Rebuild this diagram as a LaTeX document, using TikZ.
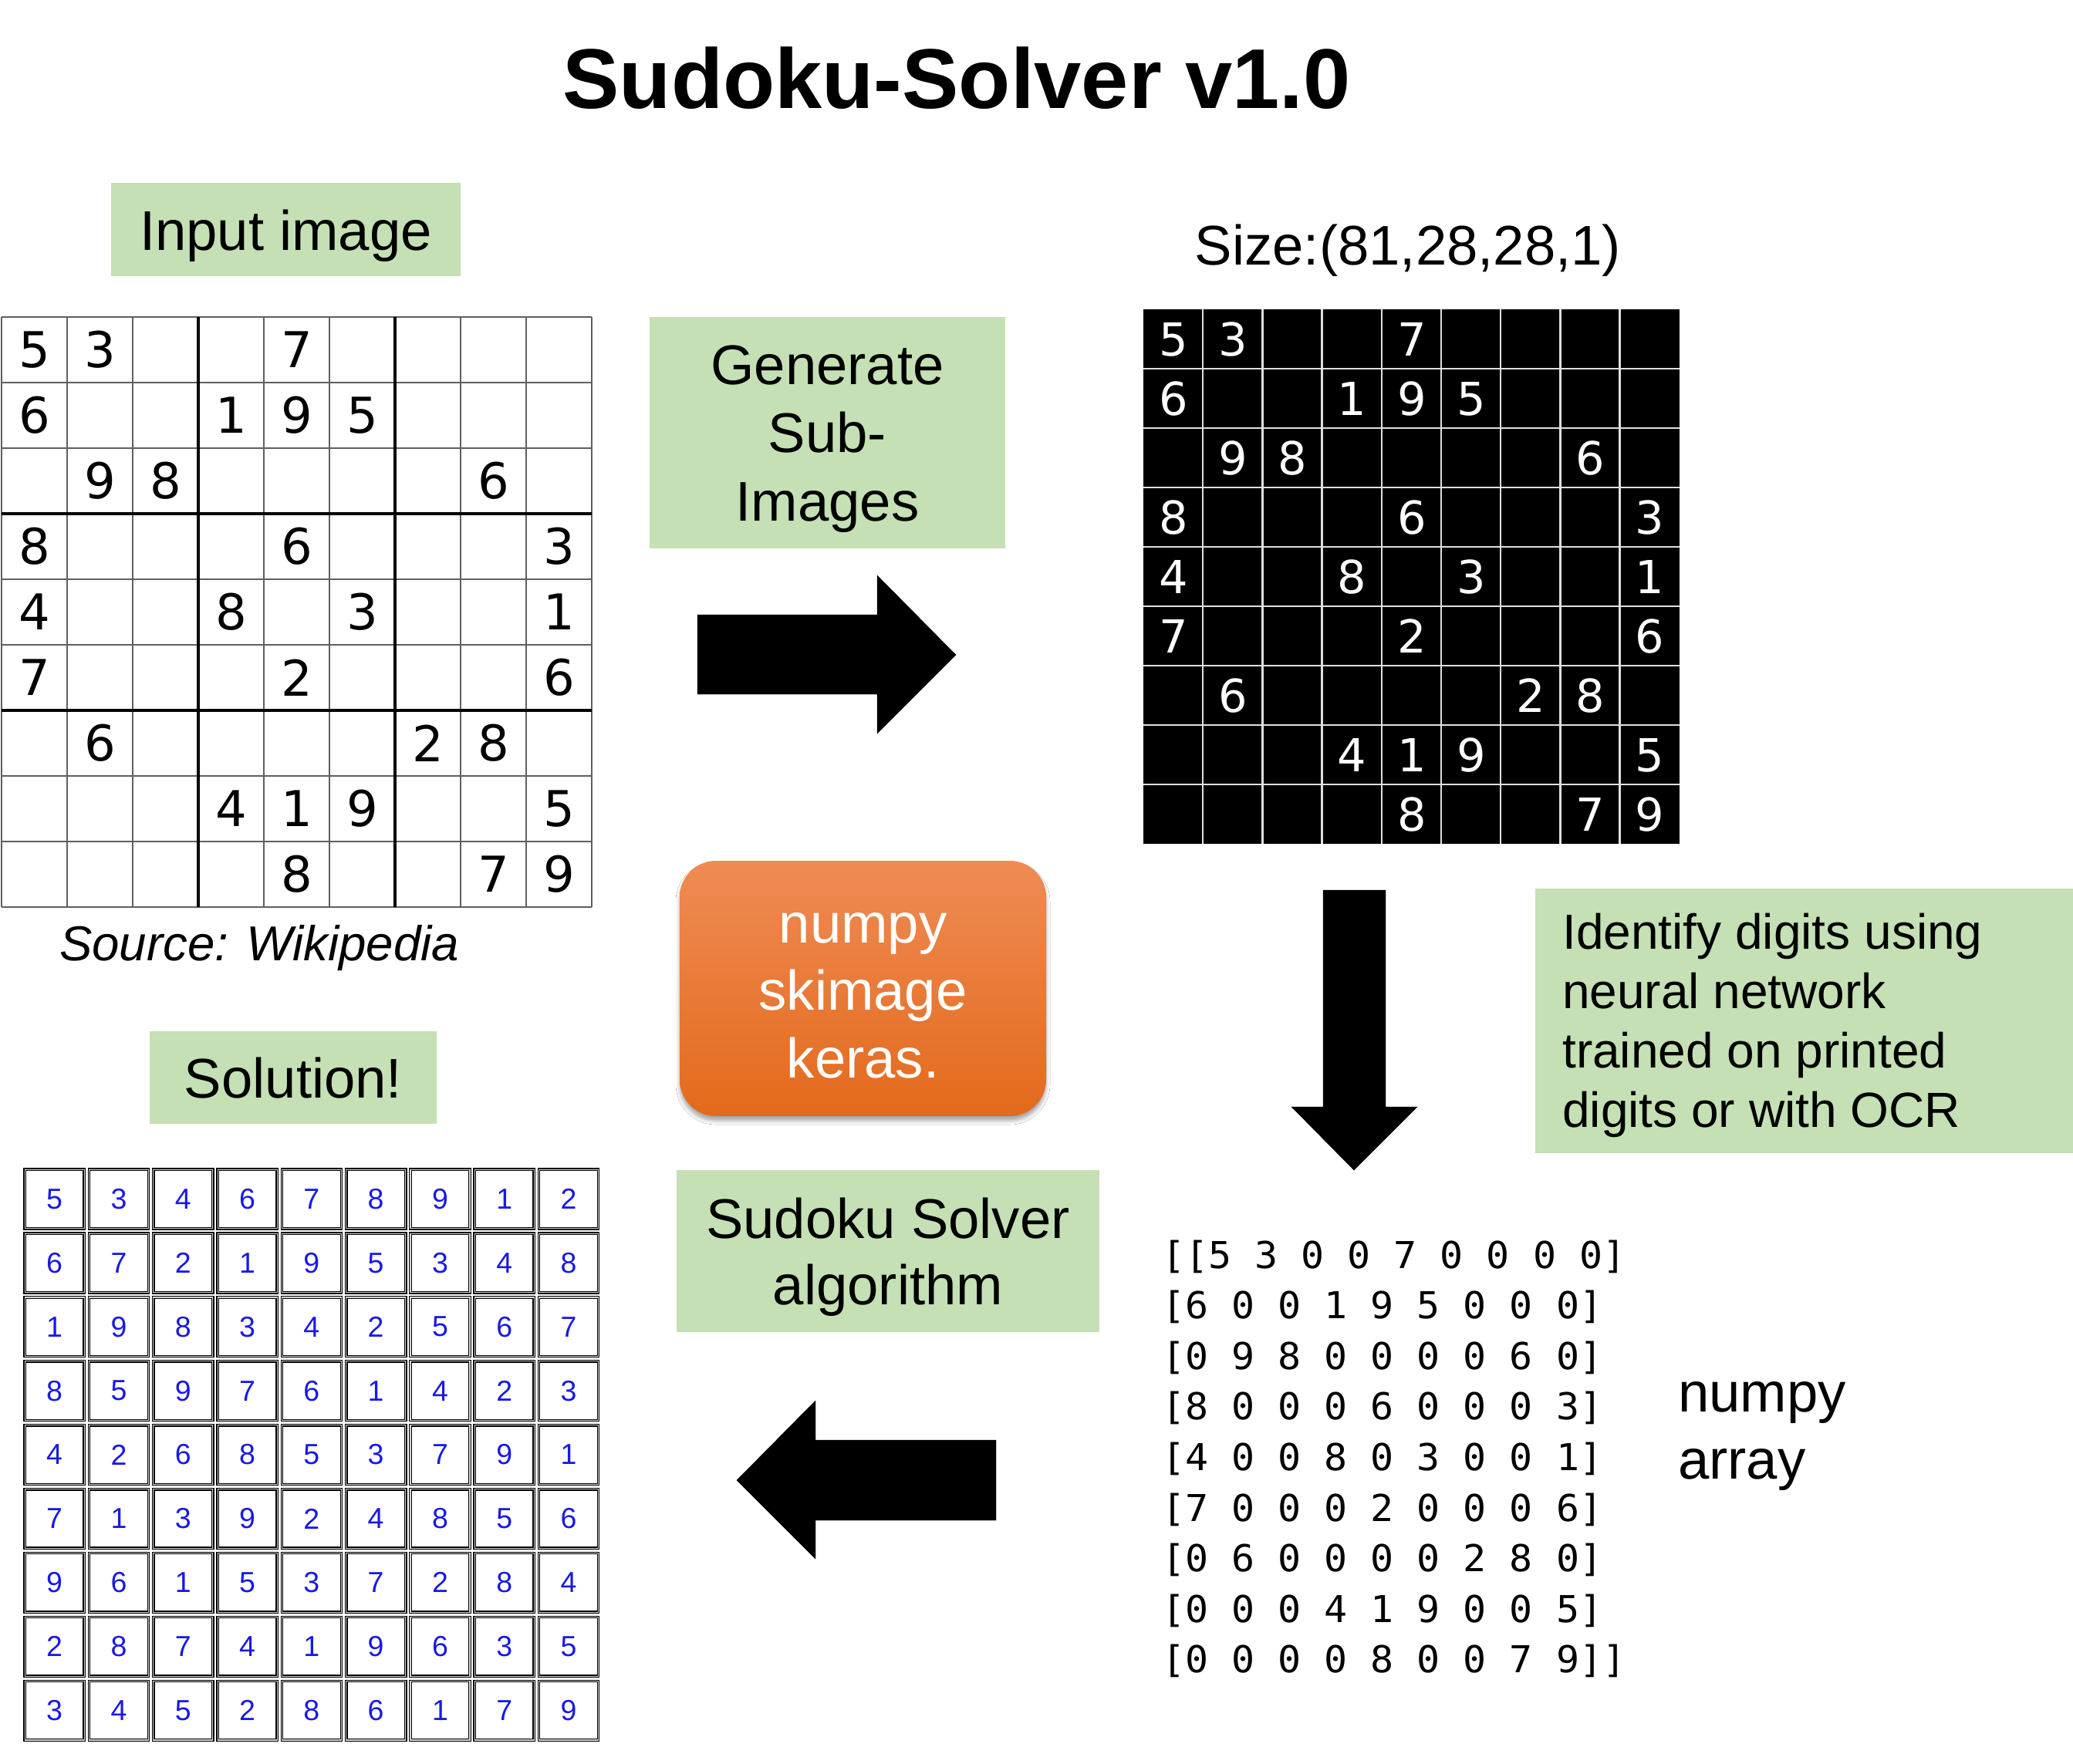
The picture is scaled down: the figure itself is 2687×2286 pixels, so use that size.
\documentclass[tikz,border=0pt]{standalone}
\usepackage{fontspec}
\setmainfont{Liberation Sans}
\newfontfamily\gridfont{DejaVu Sans}
\newfontfamily\arrfont[FakeStretch=1.04]{DejaVu Sans Mono}
\usetikzlibrary{shadows.blur}
\definecolor{boxgreen}{RGB}{197,224,180}
\definecolor{orangetop}{RGB}{239,139,84}
\definecolor{orangebot}{RGB}{227,106,28}
\definecolor{solblue}{RGB}{25,25,230}
\definecolor{gridgray}{RGB}{95,95,95}
\begin{document}
\begin{tikzpicture}[x=1pt,y=-1pt,
  greenbox/.style={fill=boxgreen, inner sep=0pt, outer sep=0pt},
  lbl/.style={anchor=base, inner sep=0pt, font=\fontsize{72.5}{87}\selectfont},
  idlbl/.style={anchor=base west, inner sep=0pt, font=\fontsize{64}{77}\selectfont},
  indig/.style={inner sep=0pt, font=\gridfont\fontsize{64}{64}\selectfont},
  blkdig/.style={inner sep=0pt, text=white, font=\gridfont\fontsize{59}{59}\selectfont},
  soldig/.style={inner sep=0pt, text=solblue, font=\fontsize{37.5}{40}\selectfont},
  solcell/.style={draw=black, line width=1.3pt, double=gray!35, double distance=1.1pt, minimum width=77, minimum height=76.6},
  arrline/.style={anchor=base west, inner sep=0pt, font=\arrfont\fontsize{48}{54}\selectfont},
  blockarrow/.style={fill=black},
  thingrid/.style={draw=gridgray, line width=2pt},
  thickgrid/.style={draw=black, line width=4.5pt},
  orangebox/.style={rounded corners=47, top color=orangetop, bottom color=orangebot, inner sep=0pt,
    blur shadow={shadow xshift=0pt, shadow yshift=-6pt, shadow blur radius=5pt, shadow opacity=35}},
]
\useasboundingbox[fill=white] (0,0) rectangle (2687,2286);

% Title
\node[anchor=base, inner sep=0pt, font=\bfseries\fontsize{110}{120}\selectfont] (title) at (1240,140) {Sudoku-Solver v1.0};

% Input image label
\node[greenbox, minimum width=453, minimum height=121] (inbox) at (370.5,297.5) {};
\node[lbl] (inlbl) at (370.5,324) {Input image};

% Input grid
\begin{scope}
\foreach \i in {0,...,9} {
  \draw[thingrid] ({2+85*\i},411) -- ({2+85*\i},1176);
  \draw[thingrid] (2,{411+85*\i}) -- (767,{411+85*\i});
}
\foreach \i in {3,6} {
  \draw[thickgrid] ({2+85*\i},411) -- ({2+85*\i},1176);
  \draw[thickgrid] (2,{411+85*\i}) -- (767,{411+85*\i});
}
\foreach \row [count=\r from 0] in {{5,3,0,0,7,0,0,0,0},{6,0,0,1,9,5,0,0,0},{0,9,8,0,0,0,0,6,0},{8,0,0,0,6,0,0,0,3},{4,0,0,8,0,3,0,0,1},{7,0,0,0,2,0,0,0,6},{0,6,0,0,0,0,2,8,0},{0,0,0,4,1,9,0,0,5},{0,0,0,0,8,0,0,7,9}} {
  \foreach \d [count=\c from 0] in \row {
    \ifnum\d>0 \node[indig] (in\r\c) at ({44.5+85*\c},{453.5+85*\r}) {\d}; \fi
  }
}
\end{scope}
\node[anchor=base west, inner sep=0pt, font=\itshape\fontsize{63.6}{70}\selectfont] (src) at (77,1245) {Source: Wikipedia};

% Generate Sub-Images
\node[greenbox, minimum width=461, minimum height=300] (genbox) at (1072.5,561) {};
\node[lbl] (gen1) at (1072.5,498) {Generate};
\node[lbl] (gen2) at (1072.5,586.5) {Sub-};
\node[lbl] (gen3) at (1072.5,675) {Images};

% right arrow
\draw[blockarrow] (904,797) -- (1137,797) -- (1137,746) -- (1239,849) -- (1137,951) -- (1137,900) -- (904,900) -- cycle;

% Size label
\node[lbl] (size) at (1825,343) {Size:(81,28,28,1)};

% Black grid
\fill[black] (1482,401) rectangle (2177,1094);
\foreach \i in {1,...,8} {
  \draw[draw=gray!25, line width=2.5pt] ({1482+77.2*\i},401) -- ({1482+77.2*\i},1094);
  \draw[draw=gray!25, line width=2.5pt] (1482,{401+77*\i}) -- (2177,{401+77*\i});
}
\foreach \row [count=\r from 0] in {{5,3,0,0,7,0,0,0,0},{6,0,0,1,9,5,0,0,0},{0,9,8,0,0,0,0,6,0},{8,0,0,0,6,0,0,0,3},{4,0,0,8,0,3,0,0,1},{7,0,0,0,2,0,0,0,6},{0,6,0,0,0,0,2,8,0},{0,0,0,4,1,9,0,0,5},{0,0,0,0,8,0,0,7,9}} {
  \foreach \d [count=\c from 0] in \row {
    \ifnum\d>0 \node[blkdig] (bk\r\c) at ({1521+77.2*\c},{440+77*\r}) {\d}; \fi
  }
}

% down arrow
\draw[blockarrow] (1715,1154) -- (1796,1154) -- (1796,1435) -- (1837,1435) -- (1755,1517) -- (1674,1435) -- (1715,1435) -- cycle;

% Identify box
\node[greenbox, minimum width=697, minimum height=343] (idbox) at (2338.5,1323.5) {};
\node[idlbl] (id1) at (2025,1230) {Identify digits using};
\node[idlbl] (id2) at (2025,1307) {neural network};
\node[idlbl] (id3) at (2025,1384) {trained on printed};
\node[idlbl] (id4) at (2025,1461) {digits or with OCR};

% Orange box
\node[orangebox, minimum width=475, minimum height=331] (tools) at (1118.5,1281.5) {};
\node[lbl, text=white] (tool1) at (1118.5,1222) {numpy};
\node[lbl, text=white] (tool2) at (1118.5,1309.5) {skimage};
\node[lbl, text=white] (tool3) at (1118.5,1397) {keras.};

% Solution label
\node[greenbox, minimum width=372, minimum height=120] (solbox) at (380,1397) {};
\node[lbl] (sollbl) at (380,1423) {Solution!};

% Solution grid
\foreach \row [count=\r from 0] in {{5,3,4,6,7,8,9,1,2},{6,7,2,1,9,5,3,4,8},{1,9,8,3,4,2,5,6,7},{8,5,9,7,6,1,4,2,3},{4,2,6,8,5,3,7,9,1},{7,1,3,9,2,4,8,5,6},{9,6,1,5,3,7,2,8,4},{2,8,7,4,1,9,6,3,5},{3,4,5,2,8,6,1,7,9}} {
  \foreach \d [count=\c from 0] in \row {
    \node[solcell, soldig] (s\r\c) at ({70.65+83.3*\c},{1554.45+82.9*\r}) {\d};
  }
}

% Sudoku Solver algorithm
\node[greenbox, minimum width=548, minimum height=210] (algbox) at (1151,1622) {};
\node[lbl] (alg1) at (1151,1605) {Sudoku Solver};
\node[lbl] (alg2) at (1151,1691) {algorithm};

% left arrow
\draw[blockarrow] (1291,1867) -- (1057,1867) -- (1057,1816) -- (955,1919) -- (1057,2021) -- (1057,1971) -- (1291,1971) -- cycle;

% numpy array
\node[arrline] (a1) at (1506,1644) {[[5 3 0 0 7 0 0 0 0]};
\node[arrline] (a2) at (1506,1709.6) {[6 0 0 1 9 5 0 0 0]};
\node[arrline] (a3) at (1506,1775.2) {[0 9 8 0 0 0 0 6 0]};
\node[arrline] (a4) at (1506,1840.8) {[8 0 0 0 6 0 0 0 3]};
\node[arrline] (a5) at (1506,1906.4) {[4 0 0 8 0 3 0 0 1]};
\node[arrline] (a6) at (1506,1972) {[7 0 0 0 2 0 0 0 6]};
\node[arrline] (a7) at (1506,2037.6) {[0 6 0 0 0 0 2 8 0]};
\node[arrline] (a8) at (1506,2103.2) {[0 0 0 4 1 9 0 0 5]};
\node[arrline] (a9) at (1506,2168.8) {[0 0 0 0 8 0 0 7 9]]};

\node[lbl, anchor=base west] (np1) at (2175,1830) {numpy};
\node[lbl, anchor=base west] (np2) at (2175,1917) {array};
\end{tikzpicture}
\end{document}
